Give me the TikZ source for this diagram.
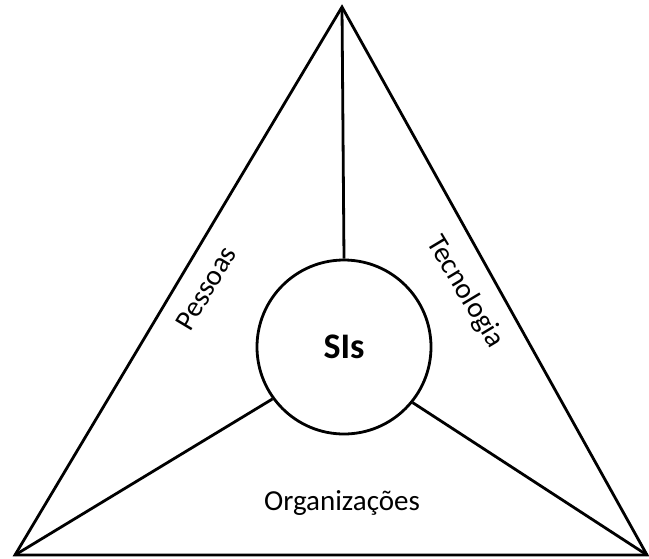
\documentclass[tikz,border=0pt]{standalone}
\usepackage{fontspec}
\setmainfont{Carlito}
\usetikzlibrary{calc}

\begin{document}
\begin{tikzpicture}[x=1pt,y=-1pt,line width=2.8pt,
    labeltext/.style={font=\fontsize{29}{34}\selectfont}]
    \useasboundingbox (0,0) rectangle (649,558);

    % Corners of the triangle
    \coordinate (top) at (342,7);
    \coordinate (left) at (15,555);
    \coordinate (right) at (647,555);

    % Central circle
    \node[circle, draw, minimum size=174pt, inner sep=0pt,
        font=\fontsize{36}{42}\selectfont\bfseries] (sis) at (344,347) {SIs};

    % Triangle
    \draw (top) -- (left) -- (right) -- cycle;

    % Spokes
    \draw (top) -- (sis.north);
    \draw (left) -- (sis.216);
    \draw (right) -- (sis.321);

    % Labels
    \node[labeltext, rotate=59] (pessoas) at (206,288) {Pessoas};
    \node[labeltext, rotate=-59] (tecnologia) at (465,292) {Tecnologia};
    \node[labeltext] (organizacoes) at (342,503) {Organizações};
\end{tikzpicture}
\end{document}
